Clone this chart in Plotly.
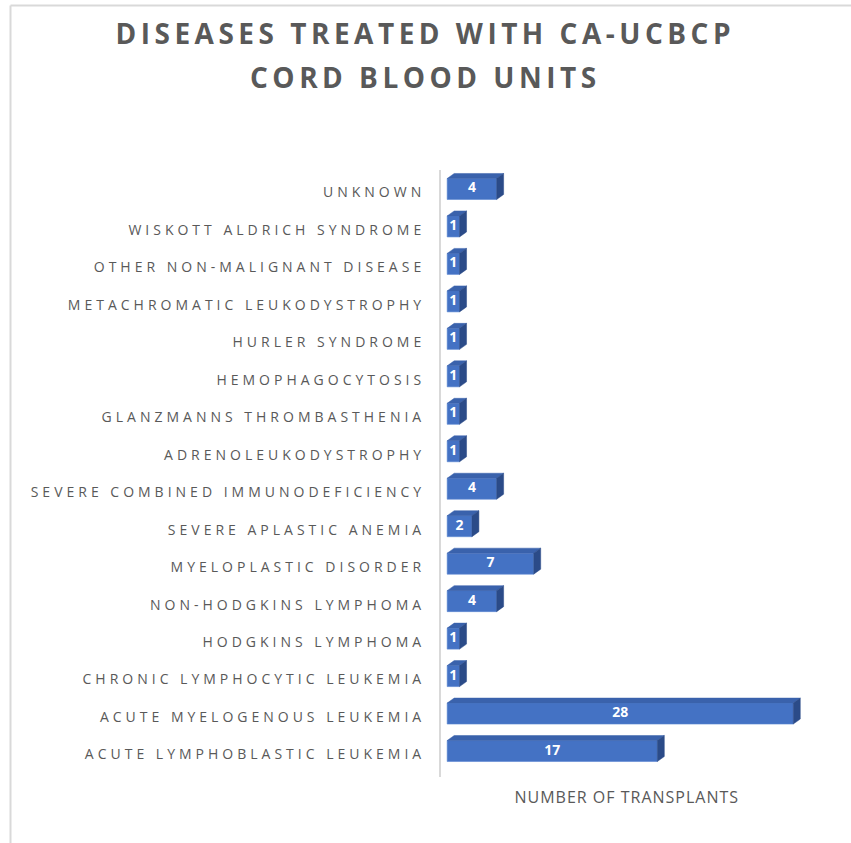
import plotly.graph_objects as go

# ---- data (bottom to top) ----
categories = [
    "ACUTE LYMPHOBLASTIC LEUKEMIA",
    "ACUTE MYELOGENOUS LEUKEMIA",
    "CHRONIC LYMPHOCYTIC LEUKEMIA",
    "HODGKINS LYMPHOMA",
    "NON-HODGKINS LYMPHOMA",
    "MYELOPLASTIC DISORDER",
    "SEVERE APLASTIC ANEMIA",
    "SEVERE COMBINED IMMUNODEFICIENCY",
    "ADRENOLEUKODYSTROPHY",
    "GLANZMANNS THROMBASTHENIA",
    "HEMOPHAGOCYTOSIS",
    "HURLER SYNDROME",
    "METACHROMATIC LEUKODYSTROPHY",
    "OTHER NON-MALIGNANT DISEASE",
    "WISKOTT ALDRICH SYNDROME",
    "UNKNOWN",
]
transplants = [17, 28, 1, 1, 4, 7, 2, 4, 1, 1, 1, 1, 1, 1, 1, 4]
title_lines = ["DISEASES TREATED WITH CA-UCBCP", "CORD BLOOD UNITS"]
axis_title = "NUMBER OF TRANSPLANTS"

# ---- layout geometry ----
W, H = 851, 843
ML, MR, MT, MB = 441, 33, 170, 66
XR = [-0.5, 30]
YR = [-0.6, 15.6]
pw = W - ML - MR
ph = H - MT - MB
ppx = pw / (XR[1] - XR[0])   # pixels per x unit
ppy = ph / (YR[1] - YR[0])   # pixels per y unit

def paper_x(px):
    return (px - ML) / pw

def paper_y(py):
    return (H - MB - py) / ph

idx = list(range(len(categories)))
half = 10.5 / ppy     # half bar height
off = 3.5 / ppy       # bar raised slightly above label line
dx = 7 / ppx          # 3D depth
dy = 5 / ppy

FRONT = "#4472C4"
TOP = "#3A62AC"
SIDE = "#2B4B88"

fig = go.Figure()

# front faces
fig.add_trace(go.Bar(
    x=transplants, y=[i + off for i in idx], orientation="h",
    width=2 * half, marker=dict(color=FRONT, line=dict(color="#5A86D2", width=0.6)),
    hoverinfo="skip", showlegend=False,
))

# top faces and side faces
tx, ty, sx, sy = [], [], [], []
for i, v in zip(idx, transplants):
    yb = i + off - half
    yt = i + off + half
    tx += [0, v, v + dx, dx, 0, None]
    ty += [yt, yt, yt + dy, yt + dy, yt, None]
    sx += [v, v + dx, v + dx, v, v, None]
    sy += [yb, yb + dy, yt + dy, yt, yb, None]

fig.add_trace(go.Scatter(x=tx, y=ty, mode="lines", fill="toself", fillcolor=TOP,
                         line=dict(color=TOP, width=0.5), hoverinfo="skip", showlegend=False))
fig.add_trace(go.Scatter(x=sx, y=sy, mode="lines", fill="toself", fillcolor=SIDE,
                         line=dict(color=SIDE, width=0.5), hoverinfo="skip", showlegend=False))

# data labels
fig.add_trace(go.Scatter(
    x=[v / 2 for v in transplants], y=[i + off for i in idx], mode="text",
    text=[str(v) for v in transplants],
    textfont=dict(family="Open Sans", size=14, color="white", weight="bold"),
    hoverinfo="skip", showlegend=False,
))

fig.update_layout(
    width=W, height=H, autosize=False,
    margin=dict(l=ML, r=MR, t=MT, b=MB, pad=0),
    paper_bgcolor="white", plot_bgcolor="white",
    showlegend=False,
    xaxis=dict(range=XR, showgrid=False, zeroline=False, showticklabels=False,
               showline=False, ticks="", fixedrange=True),
    yaxis=dict(range=YR, tickmode="array", tickvals=idx, ticktext=categories,
               showgrid=False, zeroline=False, showline=True, linecolor="#D9D9D9",
               linewidth=2, ticks="", ticklabelstandoff=11,
               tickfont=dict(family="Open Sans", size=14, color="#595959")),
)

# title lines
for text, py in zip(title_lines, [33, 77]):
    fig.add_annotation(text=text, xref="paper", yref="paper",
                       x=paper_x(425), y=paper_y(py), xanchor="center", yanchor="middle",
                       showarrow=False,
                       font=dict(family="Open Sans", size=28, color="#595959", weight="bold"))

# axis title
fig.add_annotation(text=axis_title, xref="paper", yref="paper",
                   x=paper_x(627), y=paper_y(797), xanchor="center", yanchor="middle",
                   showarrow=False, font=dict(family="Open Sans", size=16, color="#595959"))

# chart border (top and left visible)
fig.add_shape(type="line", xref="paper", yref="paper",
              x0=paper_x(10.5), y0=paper_y(5.5), x1=paper_x(W + 5), y1=paper_y(5.5),
              line=dict(color="#D9D9D9", width=2))
fig.add_shape(type="line", xref="paper", yref="paper",
              x0=paper_x(10.5), y0=paper_y(5.5), x1=paper_x(10.5), y1=paper_y(H + 5),
              line=dict(color="#D9D9D9", width=2))

post = """
var gd = document.getElementById('{plot_id}');
function spacing(){
  gd.querySelectorAll('.ytick text').forEach(function(t){ t.setAttribute('letter-spacing','4px'); });
  gd.querySelectorAll('.annotation-text').forEach(function(t){
    var s = t.textContent;
    if (s.indexOf('DISEASES') === 0 || s.indexOf('CORD') === 0) { t.setAttribute('letter-spacing','4.5px'); }
    else if (s.indexOf('NUMBER') === 0) { t.setAttribute('letter-spacing','1px'); }
  });
}
spacing();
gd.on('plotly_afterplot', spacing);
"""

fig.write_html("out.html", post_script=post)
